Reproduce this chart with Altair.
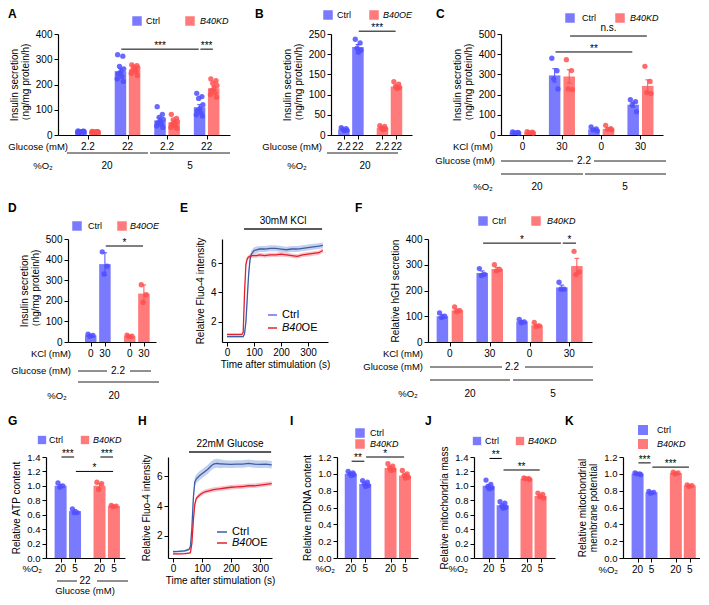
import altair as alt
import pandas as pd

FONT = "Liberation Sans"

# ---------------- data ----------------
# A
A_glucose = ["2.2", "22", "2.2", "22"]
A_o2 = ["20", "5"]
A_ctrl_mean = [13, 253, 58, 110]
A_ctrl_sem = [1, 11, 9, 10]
A_ctrl_pts = [[16, 14, 13, 12, 11, 10, 14, 12, 15],
              [318, 312, 272, 262, 252, 242, 232, 222, 212],
              [112, 82, 70, 62, 55, 48, 42, 36, 30],
              [165, 152, 145, 120, 105, 96, 88, 80, 75]]
A_kd_mean = [12, 258, 50, 185]
A_kd_sem = [1, 5, 6, 8]
A_kd_pts = [[14, 13, 12, 11, 10, 12, 13, 11, 12],
            [278, 275, 270, 266, 262, 256, 250, 244, 236],
            [82, 66, 60, 54, 47, 42, 36, 30, 26],
            [222, 215, 205, 196, 186, 176, 168, 160, 150]]
# B
B_glucose = ["2.2", "22", "2.2", "22"]
B_ctrl_mean = [14, 218]
B_ctrl_sem = [1, 6]
B_ctrl_pts = [[18, 16, 14, 12, 11], [237, 228, 215, 210, 205]]
B_oe_mean = [18, 120]
B_oe_sem = [2, 3]
B_oe_pts = [[23, 21, 17, 15, 13], [132, 126, 120, 118, 115]]
# C
C_kcl = ["0", "30", "0", "30"]
C_ctrl_mean = [12, 295, 28, 150]
C_ctrl_sem = [1, 33, 4, 12]
C_ctrl_pts = [[15, 13, 12, 10], [380, 318, 278, 228], [40, 30, 25, 20], [175, 165, 150, 115]]
C_kd_mean = [13, 290, 30, 243]
C_kd_sem = [1, 33, 5, 30]
C_kd_pts = [[16, 14, 12, 10], [373, 319, 228, 225], [48, 32, 28, 25], [340, 265, 210, 205]]
# D
D_kcl = ["0", "30", "0", "30"]
D_ctrl_mean = [32, 378]
D_ctrl_sem = [5, 55]
D_ctrl_pts = [[38, 32, 28], [438, 368, 330]]
D_oe_mean = [28, 235]
D_oe_sem = [4, 42]
D_oe_pts = [[33, 28, 25], [278, 230, 192]]
# E
E_time = [0, 20, 40, 55, 60, 65, 70, 75, 80, 85, 90, 100, 110, 120, 140, 160, 180, 200, 220, 240, 260, 280, 300, 320, 340, 355]
E_ctrl = [1.0, 1.0, 1.0, 1.0, 1.0, 1.2, 2.0, 3.6, 5.2, 6.2, 6.6, 6.85, 6.9, 6.95, 6.95, 7.0, 7.0, 6.95, 6.9, 6.95, 6.95, 7.0, 7.05, 7.1, 7.15, 7.2]
E_ctrl_sem = [0.05, 0.05, 0.05, 0.05, 0.05, 0.1, 0.2, 0.3, 0.3, 0.25, 0.25, 0.22, 0.22, 0.2, 0.2, 0.2, 0.2, 0.2, 0.2, 0.2, 0.2, 0.2, 0.2, 0.2, 0.2, 0.2]
E_oe = [1.15, 1.15, 1.15, 1.15, 1.3, 4.0, 5.9, 6.3, 6.4, 6.45, 6.5, 6.5, 6.5, 6.55, 6.5, 6.55, 6.55, 6.6, 6.55, 6.5, 6.45, 6.55, 6.6, 6.65, 6.7, 6.85]
E_oe_sem = [0.05, 0.05, 0.05, 0.05, 0.1, 0.3, 0.2, 0.15, 0.15, 0.15, 0.15, 0.15, 0.15, 0.15, 0.15, 0.15, 0.15, 0.15, 0.15, 0.15, 0.15, 0.15, 0.15, 0.15, 0.15, 0.15]
E_stim = [63, 352]
# F
F_kcl = ["0", "30", "0", "30"]
F_ctrl_mean = [100, 268, 80, 212]
F_ctrl_sem = [6, 8, 4, 9]
F_ctrl_pts = [[113, 100, 95], [285, 263, 258], [88, 78, 75], [232, 205, 205]]
F_kd_mean = [123, 283, 65, 295]
F_kd_sem = [5, 7, 4, 30]
F_kd_pts = [[136, 122, 118], [300, 282, 276], [76, 63, 60], [352, 272, 262]]
# G
G_o2 = ["20", "5", "20", "5"]
G_ctrl_mean = [1.0, 0.65]
G_ctrl_sem = [0.02, 0.02]
G_ctrl_pts = [[1.04, 1.0, 0.98], [0.68, 0.63, 0.63]]
G_kd_mean = [1.0, 0.72]
G_kd_sem = [0.03, 0.01]
G_kd_pts = [[1.05, 1.03, 0.95], [0.73, 0.72, 0.71]]
# H
H_time = [0, 20, 40, 55, 60, 65, 70, 75, 80, 90, 100, 110, 120, 130, 140, 150, 160, 180, 200, 220, 240, 260, 280, 300, 320, 340]
H_ctrl = [0.95, 0.97, 1.0, 1.1, 1.3, 2.5, 4.5, 5.6, 5.8, 6.0, 6.15, 6.3, 6.45, 6.65, 6.8, 6.85, 6.82, 6.8, 6.78, 6.8, 6.8, 6.85, 6.8, 6.78, 6.8, 6.75]
H_ctrl_sem = [0.08, 0.08, 0.08, 0.08, 0.1, 0.2, 0.3, 0.3, 0.3, 0.3, 0.3, 0.3, 0.3, 0.3, 0.3, 0.3, 0.3, 0.25, 0.25, 0.25, 0.25, 0.25, 0.25, 0.25, 0.25, 0.25]
H_oe = [0.8, 0.8, 0.82, 0.85, 0.9, 1.5, 3.0, 4.1, 4.5, 4.7, 4.85, 4.95, 5.0, 5.05, 5.1, 5.12, 5.15, 5.2, 5.25, 5.28, 5.3, 5.35, 5.35, 5.4, 5.45, 5.5]
H_oe_sem = [0.05, 0.05, 0.05, 0.05, 0.05, 0.1, 0.15, 0.15, 0.15, 0.15, 0.15, 0.15, 0.15, 0.15, 0.15, 0.15, 0.15, 0.15, 0.15, 0.15, 0.15, 0.15, 0.15, 0.15, 0.15, 0.15]
H_stim = [55, 338]
# I
I_o2 = ["20", "5", "20", "5"]
I_ctrl_mean = [1.0, 0.88]
I_ctrl_sem = [0.01, 0.015]
I_ctrl_pts = [[1.03, 1.01, 1.0, 0.99, 0.98], [0.92, 0.9, 0.88, 0.86, 0.85]]
I_kd_mean = [1.07, 0.98]
I_kd_sem = [0.015, 0.015]
I_kd_pts = [[1.12, 1.09, 1.07, 1.05, 1.04], [1.04, 1.0, 0.98, 0.96, 0.95]]
# J
J_o2 = ["20", "5", "20", "5"]
J_ctrl_mean = [1.0, 0.73]
J_ctrl_sem = [0.02, 0.02]
J_ctrl_pts = [[1.08, 1.02, 0.99, 0.97, 0.96], [0.78, 0.76, 0.72, 0.7, 0.69]]
J_kd_mean = [1.1, 0.86]
J_kd_sem = [0.005, 0.015]
J_kd_pts = [[1.11, 1.1, 1.1, 1.09], [0.9, 0.88, 0.85, 0.83]]
# K
K_o2 = ["20", "5", "20", "5"]
K_ctrl_mean = [1.0, 0.78]
K_ctrl_sem = [0.005, 0.005]
K_ctrl_pts = [[1.01, 1.0, 1.0, 0.99], [0.79, 0.78, 0.77]]
K_kd_mean = [1.01, 0.86]
K_kd_sem = [0.005, 0.005]
K_kd_pts = [[1.02, 1.01, 1.0], [0.87, 0.86, 0.85]]

# ---------------- styles ----------------
BAR_C = {"Ctrl": "#7a7aff", "Mut": "#ff7a7a"}
DOT_C = {"Ctrl": "#4f4fff", "Mut": "#ff5050"}
LINE_C = {"Ctrl": "#3e5ca3", "Mut": "#e3202e"}
BAND_C = {"Ctrl": "#a3b9e6", "Mut": "#f4a3ad"}
JIT = [-3.0, 2.5, -1.0, 3.5, 0.5, -2.5, 1.5, -3.5, 3.0, -0.5]

ONE = pd.DataFrame({"k": [0]})


def T(s, x, y, size=10, align="center", baseline="middle", style="normal", weight="normal", color="black"):
    return alt.Chart(ONE).mark_text(text=s, font=FONT, fontSize=size, align=align, baseline=baseline,
                                    fontStyle=style, fontWeight=weight, color=color).encode(
        x=alt.value(x), y=alt.value(y))


def HL(x1, x2, y, color="#222222", w=1):
    return alt.Chart(ONE).mark_rule(color=color, strokeWidth=w).encode(
        x=alt.value(x1), x2=alt.value(x2), y=alt.value(y))


def SQ(x, y, color, size=90):
    return alt.Chart(ONE).mark_square(color=color, size=size, opacity=1).encode(x=alt.value(x), y=alt.value(y))


def letter(s, x, y):
    return T(s, x, y, 12, align="left", baseline="top", weight="bold")


def legend_h(sx1, tx1, sx2, tx2, y, mut, fs=9, sq=90):
    return [SQ(sx1, y, BAR_C["Ctrl"], sq), T("Ctrl", tx1, y, fs, align="left"),
            SQ(sx2, y, BAR_C["Mut"], sq), T(mut, tx2, y, fs, align="left", style="italic")]


def legend_v(sx, tx, y1, y2, mut, fs=9, sq=90):
    return [SQ(sx, y1, BAR_C["Ctrl"], sq), T("Ctrl", tx, y1, fs, align="left"),
            SQ(sx, y2, BAR_C["Mut"], sq), T(mut, tx, y2, fs, align="left", style="italic")]


def yaxis(vals, title, fmt, fs=10, tpad=5):
    return alt.Axis(values=vals, format=fmt, title=title, grid=False, domainColor="black", domainWidth=1.2,
                    tickColor="black", tickSize=4, tickWidth=1, labelFont=FONT, labelFontSize=fs,
                    labelColor="black", labelPadding=2, titleFont=FONT, titleFontSize=10,
                    titleFontWeight="normal", titleColor="black", titlePadding=tpad, titleLineHeight=11)


def make_bars(cm, cs, cp, mm, ms, mp, layout, gap):
    out = []
    n = len(cm)
    if layout == "pairs":
        for g in range(n):
            out.append(dict(pos=g * gap, geno="Ctrl", mean=cm[g], sem=cs[g], pts=cp[g]))
            out.append(dict(pos=g * gap + 1, geno="Mut", mean=mm[g], sem=ms[g], pts=mp[g]))
    else:
        for k in range(n):
            out.append(dict(pos=k, geno="Ctrl", mean=cm[k], sem=cs[k], pts=cp[k]))
        for k in range(n):
            out.append(dict(pos=gap + k, geno="Mut", mean=mm[k], sem=ms[k], pts=mp[k]))
    return out


def group_centers(bars):
    return [(bars[i]["pos"] + bars[i + 1]["pos"]) / 2 for i in range(0, len(bars), 2)]


def bar_panel(bars, labels, label_pos, W, H, u, first, ydom, yvals, ytitle, fmt, sigs, annots,
              bw=11.5, fs=10, lab_y=None, tpad=5):
    if lab_y is None:
        lab_y = H + 12
    xs = alt.Scale(domain=[-first / u, (W - first) / u], nice=False, zero=False)
    ys = alt.Scale(domain=ydom, nice=False, zero=False)
    upp = (ydom[1] - ydom[0]) / H
    bdf = pd.DataFrame([{"pos": b["pos"], "mean": b["mean"], "c": BAR_C[b["geno"]]} for b in bars])
    edf = pd.DataFrame([{"pos": b["pos"], "lo": b["mean"] - b["sem"], "hi": b["mean"] + b["sem"],
                         "cl": b["pos"] - 2.5 / u, "cr": b["pos"] + 2.5 / u, "c": DOT_C[b["geno"]]} for b in bars])
    prow = []
    for b in bars:
        for i, v in enumerate(b["pts"]):
            prow.append({"x": b["pos"] + JIT[i % len(JIT)] / u, "v": v, "c": DOT_C[b["geno"]]})
    pdf = pd.DataFrame(prow)
    srow = []
    for (i, j, yv, lab, off) in sigs:
        x1 = bars[i]["pos"] + 0.06
        x2 = bars[j]["pos"] - 0.06
        srow.append({"x1": x1, "x2": x2, "xm": (x1 + x2) / 2, "y": yv, "yt": yv + off * upp, "lab": lab})
    sdf = pd.DataFrame(srow)
    ldf = pd.DataFrame({"pos": label_pos, "lab": labels})
    xaxis = alt.Axis(values=list(label_pos), labels=False, title=None, ticks=True, tickSize=4, grid=False,
                     domainColor="black", tickColor="black", domainWidth=1.2, tickWidth=1)
    ya = yaxis(yvals, ytitle, fmt, fs, tpad)
    X = lambda f: alt.X(f, scale=xs, axis=xaxis)
    Y = lambda f: alt.Y(f, scale=ys, axis=ya)
    col = alt.Color("c:N", scale=None)
    bars_l = alt.Chart(bdf).mark_bar(size=bw, orient="vertical").encode(x=X("pos:Q"), y=Y("mean:Q"), color=col)
    pts_l = alt.Chart(pdf).mark_circle(size=28, opacity=0.85).encode(x=X("x:Q"), y=Y("v:Q"), color=col)
    err_l = alt.Chart(edf).mark_rule(strokeWidth=1).encode(x=X("pos:Q"), y=Y("lo:Q"), y2="hi:Q", color=col)
    cap_h = alt.Chart(edf).mark_rule(strokeWidth=1).encode(x=X("cl:Q"), x2="cr:Q", y=Y("hi:Q"), color=col)
    cap_l = alt.Chart(edf).mark_rule(strokeWidth=1).encode(x=X("cl:Q"), x2="cr:Q", y=Y("lo:Q"), color=col)
    sig_l = alt.Chart(sdf).mark_rule(color="black", strokeWidth=1).encode(x=X("x1:Q"), x2="x2:Q", y=Y("y:Q"))
    sig_t = alt.Chart(sdf).mark_text(font=FONT, fontSize=10, baseline="alphabetic", color="black").encode(
        x=X("xm:Q"), y=Y("yt:Q"), text="lab:N")
    labs = alt.Chart(ldf).mark_text(font=FONT, fontSize=10, baseline="middle", color="black").encode(
        x=X("pos:Q"), y=alt.value(lab_y), text="lab:N")
    return alt.layer(bars_l, pts_l, err_l, cap_h, cap_l, sig_l, sig_t, labs, *annots).properties(width=W, height=H)


def line_panel(t, c, cs, m, ms, stim, header, W, H, xdom, ydom, annots, hoff=(10, 18)):
    xs = alt.Scale(domain=xdom, nice=False, zero=False)
    ys = alt.Scale(domain=ydom, nice=False, zero=False)
    rows = []
    for key, vals, sems in (("Ctrl", c, cs), ("Mut", m, ms)):
        for ti, v, s in zip(t, vals, sems):
            rows.append({"t": ti, "v": v, "lo": v - s, "hi": v + s, "bc": BAND_C[key], "lc": LINE_C[key]})
    df = pd.DataFrame(rows)
    upp = (ydom[1] - ydom[0]) / H
    sdf = pd.DataFrame({"t1": [stim[0]], "t2": [stim[1]], "tm": [(stim[0] + stim[1]) / 2],
                        "y": [ydom[1] + hoff[0] * upp], "yt": [ydom[1] + hoff[1] * upp], "lab": [header]})
    xaxis = alt.Axis(values=[0, 100, 200, 300], format="d", title="Time after stimulation (s)", grid=False,
                     domainColor="black", domainWidth=1.2, tickColor="black", tickSize=4, labelFont=FONT,
                     labelFontSize=10, labelColor="black", labelPadding=1, titleFont=FONT, titleFontSize=10,
                     titleFontWeight="normal", titleColor="black", titlePadding=2)
    ya = yaxis([2, 4, 6], "Relative Fluo-4 intensity", "d")
    X = lambda f: alt.X(f, scale=xs, axis=xaxis)
    Y = lambda f: alt.Y(f, scale=ys, axis=ya, stack=None)
    band = alt.Chart(df).mark_area(opacity=0.65).encode(
        x=X("t:Q"), y=Y("lo:Q"), y2="hi:Q", color=alt.Color("bc:N", scale=None))
    line = alt.Chart(df).mark_line(strokeWidth=1.3).encode(
        x=X("t:Q"), y=Y("v:Q"), color=alt.Color("lc:N", scale=None))
    hr = alt.Chart(sdf).mark_rule(color="#222222", strokeWidth=1.3).encode(x=X("t1:Q"), x2="t2:Q", y=Y("y:Q"))
    ht = alt.Chart(sdf).mark_text(font=FONT, fontSize=10, color="black").encode(
        x=X("tm:Q"), y=Y("yt:Q"), text="lab:N")
    return alt.layer(band, line, hr, ht, *annots).properties(width=W, height=H)


def SP(w):
    return alt.Chart(ONE).mark_rule(opacity=0).encode(
        x=alt.value(0), x2=alt.value(w), y=alt.value(0)).properties(width=w, height=1)


def VSP(h):
    return alt.Chart(ONE).mark_rule(opacity=0).encode(
        x=alt.value(0), y=alt.value(0), y2=alt.value(h)).properties(width=1, height=h)


INS = ["Insulin secretion", "（ng/mg protein/h)"]

# ---------------- panels ----------------
bA = make_bars(A_ctrl_mean, A_ctrl_sem, A_ctrl_pts, A_kd_mean, A_kd_sem, A_kd_pts, "pairs", 2.8)
gA = group_centers(bA)
annA = [letter("A", -50, -25), *legend_h(79, 88, 132, 142, -13, "B40KD"),
        T("Glucose (mM)", 10, 113, 9.5, align="right"),
        HL(9, 90, 119), HL(92, 172, 119),
        T("%O₂", -15, 132, 9.5), T(A_o2[0], 49, 132), T(A_o2[1], 132, 132)]
pA = bar_panel(bA, A_glucose, gA, 172, 101, 15, 19, [0, 400], [0, 100, 200, 300, 400], INS, "d",
               [(2, 6, 340, "***", 0), (6, 7, 340, "***", 0)], annA)

bB = make_bars(B_ctrl_mean, B_ctrl_sem, B_ctrl_pts, B_oe_mean, B_oe_sem, B_oe_pts, "geno", 2.75)
annB = [letter("B", -76, -25), *legend_h(-3, 6, 43, 52, -19, "B40OE"),
        T("Glucose (mM)", -9, 113, 9.5, align="right"), HL(-4, 67, 119),
        T("%O₂", -34, 132, 9.5), T("20", 34, 132)]
pB = bar_panel(bB, B_glucose, [b["pos"] for b in bB], 81, 101, 16, 9, [0, 250], [0, 50, 100, 150, 200, 250],
               INS, "d", [(1, 3, 257, "***", 0)], annB)

bC = make_bars(C_ctrl_mean, C_ctrl_sem, C_ctrl_pts, C_kd_mean, C_kd_sem, C_kd_pts, "pairs", 2.7)
annC = [letter("C", -65, -25), *legend_h(69, 81, 119, 129, -16, "B40KD"),
        T("KCl (mM)", -8, 113, 9.5, align="right"),
        T("Glucose (mM)", -6, 127, 9.5, align="right"), HL(0, 72, 127), T("2.2", 83, 127), HL(93, 165, 127),
        HL(0, 82, 140), HL(84, 165, 140),
        T("%O₂", -18, 153, 9.5), T("20", 36, 153), T("5", 124, 153)]
pC = bar_panel(bC, C_kcl, group_centers(bC), 162, 101, 15.5, 10, [0, 500], [0, 100, 200, 300, 400, 500],
               INS, "d", [(3, 7, 490, "n.s.", 5), (2, 6, 411, "**", 0)], annC)

bD = make_bars(D_ctrl_mean, D_ctrl_sem, D_ctrl_pts, D_oe_mean, D_oe_sem, D_oe_pts, "geno", 2.75)
annD = [letter("D", -60, -36), *legend_h(9, 20, 54, 62, -13, "B40OE"),
        T("KCl (mM)", 3, 115, 9.5, align="right"),
        T("Glucose (mM)", 3, 132, 9.5, align="right"), HL(10, 39, 132), T("2.2", 50, 132), HL(62, 83, 132),
        HL(10, 91, 143),
        T("%O₂", -11, 157, 9.5), T("20", 46, 157)]
pD = bar_panel(bD, D_kcl, [b["pos"] for b in bD], 88, 103, 16, 20, [0, 500], [0, 100, 200, 300, 400, 500],
               INS, "d", [(1, 3, 466, "*", 0)], annD)

annE = [letter("E", -42, -36),
        HL(46, 55, 76, "#6c6cf0", 1.5), T("Ctrl", 60, 76, 11, align="left"),
        HL(46, 55, 89, LINE_C["Mut"], 1.5), T("B40", 60, 89, 11, align="left", style="italic"),
        T("OE", 79.6, 89, 11, align="left")]
pE = line_panel(E_time, E_ctrl, E_ctrl_sem, E_oe, E_oe_sem, E_stim, "30mM KCl", 106, 103,
                [-18.5, 374], [0.64, 7.63], annE, (10, 18))

bF = make_bars(F_ctrl_mean, F_ctrl_sem, F_ctrl_pts, F_kd_mean, F_kd_sem, F_kd_pts, "pairs", 2.65)
annF = [letter("F", -73, -36), *legend_h(55, 64, 108, 119, -18, "B40KD"),
        T("KCl (mM)", -5, 115, 9.5, align="right"),
        T("Glucose (mM)", -5, 128, 9.5, align="right"), HL(2, 74, 128), T("2.2", 84, 128), HL(97, 165, 128),
        HL(2, 82, 141), HL(85, 165, 141),
        T("%O₂", -20, 155, 9.5), T("20", 42, 155), T("5", 125, 155)]
pF = bar_panel(bF, F_kcl, group_centers(bF), 164, 103, 16, 10, [0, 400], [0, 100, 200, 300, 400],
               "Relative hGH  secretion", "d", [(2, 6, 384, "*", 0), (6, 7, 384, "*", 0)], annF)

R3 = dict(bw=12, fs=9.5)
bG = make_bars(G_ctrl_mean, G_ctrl_sem, G_ctrl_pts, G_kd_mean, G_kd_sem, G_kd_pts, "geno", 2.7)
annG = [letter("G", -38, -41), *legend_h(-4, 3, 39, 47, -17, "B40KD", sq=70),
        T("%O₂", -4, 112, 9.5, align="right"),
        HL(11, 31, 124), T("22", 39, 124), HL(51, 82, 124),
        T("Glucose (mM)", 39, 134, 9.5)]
pG = bar_panel(bG, G_o2, [b["pos"] for b in bG], 79, 101, 16.5, 11, [0, 1.4],
               [0, 0.2, 0.4, 0.6, 0.8, 1.0, 1.2, 1.4], "Relative ATP content", ".1f",
               [(0, 1, 1.4, "***", 0), (2, 3, 1.4, "***", 0), (1, 3, 1.2, "*", 0)], annG, lab_y=112, **R3)

annH = [letter("H", -30, -41),
        HL(49, 59, 75, LINE_C["Ctrl"], 1.5), T("Ctrl", 64, 75, 11, align="left"),
        HL(49, 59, 86, LINE_C["Mut"], 1.5), T("B40", 64, 86, 11, align="left", style="italic"),
        T("OE", 83.6, 86, 11, align="left")]
pH = line_panel(H_time, H_ctrl, H_ctrl_sem, H_oe, H_oe_sem, H_stim, "22mM Glucose", 104, 101,
                [-17.2, 341], [0.53, 7.27], annH, (5, 13))

bI = make_bars(I_ctrl_mean, I_ctrl_sem, I_ctrl_pts, I_kd_mean, I_kd_sem, I_kd_pts, "geno", 2.75)
annI = [letter("I", -47, -41), *legend_v(23, 33, -24, -13, "B40KD"),
        T("%O₂", -2, 112, 9.5, align="right")]
pI = bar_panel(bI, I_o2, [b["pos"] for b in bI], 81, 101, 16.5, 10, [0, 1.2],
               [0, 0.2, 0.4, 0.6, 0.8, 1.0, 1.2], "Relative mtDNA content", ".1f",
               [(0, 1, 1.15, "**", 0), (1, 3, 1.2, "*", 0)], annI, lab_y=112, **R3)

bJ = make_bars(J_ctrl_mean, J_ctrl_sem, J_ctrl_pts, J_kd_mean, J_kd_sem, J_kd_pts, "geno", 2.7)
annJ = [letter("J", -49, -41), *legend_h(3, 11, 46, 54, -16, "B40KD", sq=70),
        T("%O₂", -6, 112, 9.5, align="right")]
pJ = bar_panel(bJ, J_o2, [b["pos"] for b in bJ], 81, 101, 16, 11, [0, 1.4],
               [0, 0.2, 0.4, 0.6, 0.8, 1.0, 1.2, 1.4], "Relative mitochondria mass", ".1f",
               [(0, 1, 1.38, "**", 0), (1, 3, 1.22, "**", 0)], annJ, lab_y=112, **R3)

bK = make_bars(K_ctrl_mean, K_ctrl_sem, K_ctrl_pts, K_kd_mean, K_kd_sem, K_kd_pts, "geno", 2.75)
annK = [letter("K", -58, -41), *legend_v(20, 34, -27, -13, "B40KD", sq=100),
        T("%O₂", -5, 113, 9.5, align="right")]
pK = bar_panel(bK, K_o2, [b["pos"] for b in bK], 77, 101, 16, 11, [0, 1.2],
               [0, 0.2, 0.4, 0.6, 0.8, 1.0, 1.2], ["Relative mitochondrial", "membrane potential"], ".1f",
               [(0, 1, 1.13, "***", 0), (1, 3, 1.08, "***", 0)], annK, lab_y=113, **R3)

FL = dict(spacing=0, bounds="flush")
row1 = alt.hconcat(SP(50), pA, SP(101), pB, SP(89), pC, **FL)
row2 = alt.hconcat(SP(60), pD, SP(66), pE, SP(100), pF, **FL)
row3 = alt.hconcat(SP(38), pG, SP(43), pH, SP(65), pI, SP(56), pJ, SP(68), pK, **FL)

# nested rows count with no height in a flush layout, so the vertical spacers carry the row heights too
chart = alt.vconcat(VSP(25), row1, VSP(101 + 104), row2, VSP(103 + 115), row3, **FL).properties(
    padding=0).configure(font=FONT).configure_view(stroke="transparent", strokeWidth=0)

chart.save("out.html", embed_options={"renderer": "svg", "actions": False})
